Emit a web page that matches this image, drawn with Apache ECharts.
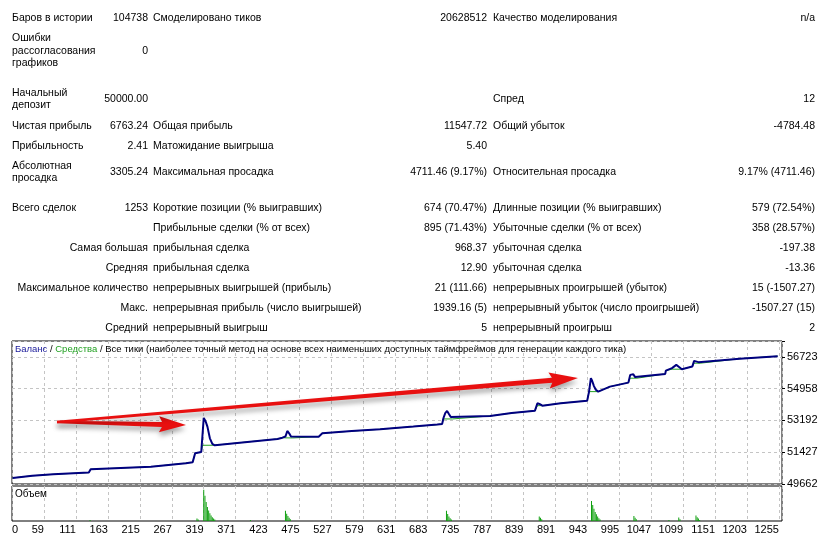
<!DOCTYPE html>
<html>
<head>
<meta charset="utf-8">
<script src="https://cdn.jsdelivr.net/npm/echarts@6/dist/echarts.min.js"></script>
<style>
html, body { margin: 0; padding: 0; background: #fff; }
#chart { position: absolute; left: 0; top: 0; width: 824px; height: 539px; }
#stats { position: absolute; left: 0; top: 0; width: 824px; height: 336px;
  font-family: "Liberation Sans", Arial, sans-serif; font-size: 10.5px; color: #000; }
#stats div { position: absolute; white-space: pre; line-height: 12.5px; }
</style>
</head>
<body>
<div id="chart"></div>
<div id="stats"></div>
<script>
// report table: label1, value1, label2, value2, label3, value3
const statRows = [
  ["Баров в истории", "104738", "Смоделировано тиков", "20628512", "Качество моделирования", "n/a"],
  ["Ошибки\nрассогласования\nграфиков", "0", "", "", "", ""],
  ["Начальный\nдепозит", "50000.00", "", "", "Спред", "12"],
  ["Чистая прибыль", "6763.24", "Общая прибыль", "11547.72", "Общий убыток", "-4784.48"],
  ["Прибыльность", "2.41", "Матожидание выигрыша", "5.40", "", ""],
  ["Абсолютная\nпросадка", "3305.24", "Максимальная просадка", "4711.46 (9.17%)", "Относительная просадка", "9.17% (4711.46)"],
  ["Всего сделок", "1253", "Короткие позиции (% выигравших)", "674 (70.47%)", "Длинные позиции (% выигравших)", "579 (72.54%)"],
  ["", "", "Прибыльные сделки (% от всех)", "895 (71.43%)", "Убыточные сделки (% от всех)", "358 (28.57%)"],
  ["Самая большая", "", "прибыльная сделка", "968.37", "убыточная сделка", "-197.38"],
  ["Средняя", "", "прибыльная сделка", "12.90", "убыточная сделка", "-13.36"],
  ["Максимальное количество", "", "непрерывных выигрышей (прибыль)", "21 (111.66)", "непрерывных проигрышей (убыток)", "15 (-1507.27)"],
  ["Макс.", "", "непрерывная прибыль (число выигрышей)", "1939.16 (5)", "непрерывный убыток (число проигрышей)", "-1507.27 (15)"],
  ["Средний", "", "непрерывный выигрыш", "5", "непрерывный проигрыш", "2"]
];

// balance curve: [trade #, balance]
const balancePoints = [
  [8, 50000], [40, 50120], [74, 50200], [132, 50300], [135, 50480], [233, 50620],
  [290, 50820], [301, 50870], [305, 51369], [315, 51441], [317, 51500], [319, 53332],
  [322, 53150], [325, 52850], [329, 52200], [333, 51890], [337, 51814], [390, 52000],
  [439, 52164], [447, 52236], [452, 52300], [455, 52609], [458, 52480], [461, 52300],
  [464, 52220], [506, 52292], [512, 52481], [560, 52600], [606, 52703], [660, 52850],
  [699, 52962], [707, 53000], [709, 53315], [712, 53600], [715, 53721], [718, 53550],
  [721, 53380], [724, 53276], [785, 53443], [820, 53600], [858, 53737], [862, 54149],
  [863, 54221], [866, 54100], [870, 54015], [900, 54150], [943, 54293], [946, 54794],
  [949, 55539], [951, 55400], [954, 55100], [957, 54900], [961, 54794], [980, 55072],
  [1010, 55294], [1013, 55723], [1016, 55761], [1018, 55761], [1021, 55600], [1024, 55539],
  [1070, 55778], [1071, 55962], [1081, 56100], [1088, 56278], [1093, 56150], [1097, 56039],
  [1114, 56184], [1117, 56501], [1120, 56520], [1124, 56430], [1127, 56373], [1191, 56620],
  [1253, 56763]
];

// equity curve: [trade #, equity]
const equityPoints = [
  [8, 50000], [40, 50120], [74, 50200], [132, 50300], [135, 50480], [233, 50620],
  [290, 50820], [301, 50870], [305, 51369], [315, 51441], [317, 51500], [317, 51814],
  [337, 51814], [390, 52000], [439, 52164], [447, 52236], [452, 52225], [464, 52220],
  [506, 52292], [512, 52481], [560, 52600], [606, 52703], [660, 52850], [699, 52962],
  [707, 53000], [709, 53276], [724, 53276], [785, 53443], [820, 53600], [858, 53737],
  [862, 54015], [870, 54015], [900, 54150], [943, 54293], [946, 54794], [961, 54794],
  [980, 55072], [1010, 55294], [1013, 55539], [1024, 55539], [1070, 55778], [1071, 55962],
  [1081, 56039], [1097, 56039], [1114, 56184], [1117, 56373], [1127, 56373], [1191, 56620],
  [1253, 56763]
];

// volume: [trade #, lots]
const volumePoints = [
  [134, 0.3], [308, 0.7], [310, 0.4],
  [319, 8.9], [321, 7.2], [323, 5.4], [325, 4.0], [327, 3.0], [329, 2.2], [331, 1.6], [333, 1.1], [335, 0.7], [337, 0.4],
  [395, 0.3],
  [452, 2.9], [454, 2.1], [456, 1.4], [458, 0.9], [460, 0.5],
  [714, 2.9], [716, 2.0], [718, 1.3], [720, 0.8], [722, 0.4],
  [865, 1.3], [867, 0.9], [869, 0.5],
  [950, 5.7], [952, 4.6], [954, 3.5], [956, 2.6], [958, 1.9], [960, 1.3], [962, 0.8], [964, 0.4],
  [1019, 1.4], [1021, 0.9], [1023, 0.5],
  [1076, 0.3],
  [1092, 1.0], [1094, 0.5],
  [1120, 1.6], [1122, 1.1], [1124, 0.7], [1126, 0.3]
];

const xTickLabels = ["0", "59", "111", "163", "215", "267", "319", "371", "423", "475", "527", "579",
  "631", "683", "735", "787", "839", "891", "943", "995", "1047", "1099", "1151", "1203", "1255"];
const yTickLabels = ["49662", "51427", "53192", "54958", "56723"];

// ---- table ----
const rowCenters = [17, 50, 98, 125, 145, 171, 207, 227, 247, 267, 287, 307, 327];
const stats = document.getElementById("stats");
function cell(text, x, cy, alignRight) {
  if (!text) return;
  const d = document.createElement("div");
  const lines = text.split("\n").length;
  d.textContent = text;
  d.style.top = (cy - lines * 6.25) + "px";
  if (alignRight) { d.style.right = (824 - x) + "px"; d.style.textAlign = "right"; }
  else d.style.left = x + "px";
  stats.appendChild(d);
}
statRows.forEach((r, i) => {
  const cy = rowCenters[i];
  cell(r[0], i >= 8 ? 148 : 12, cy, i >= 8);
  cell(r[1], 148, cy, true);
  cell(r[2], 153, cy, false);
  cell(r[3], 487, cy, true);
  cell(r[4], 493, cy, false);
  cell(r[5], 815, cy, true);
});

// ---- chart ----
const chart = echarts.init(document.getElementById("chart"));
const font = '"Liberation Sans", Arial, sans-serif';
const gridLine = { show: true, lineStyle: { color: "#c4c4c4", type: [3, 3], width: 1 } };

function arrow(tail, tip, w0, w1, headLen, headHalf) {
  const dx = tip[0] - tail[0], dy = tip[1] - tail[1];
  const len = Math.hypot(dx, dy), ux = dx / len, uy = dy / len, nx = -uy, ny = ux;
  const bx = tip[0] - ux * headLen, by = tip[1] - uy * headLen;
  return {
    type: "polygon",
    shape: { points: [
      [tail[0] + nx * w0 / 2, tail[1] + ny * w0 / 2],
      [bx + nx * w1 / 2, by + ny * w1 / 2],
      [bx - ux * 3 + nx * headHalf, by - uy * 3 + ny * headHalf],
      tip,
      [bx - ux * 3 - nx * headHalf, by - uy * 3 - ny * headHalf],
      [bx - nx * w1 / 2, by - ny * w1 / 2],
      [tail[0] - nx * w0 / 2, tail[1] - ny * w0 / 2]
    ] },
    style: { fill: "#e81010", shadowBlur: 5, shadowOffsetY: 4, shadowColor: "rgba(0,0,0,0.35)" },
    z: 100
  };
}

chart.setOption({
  animation: false,
  grid: [
    { left: 12, right: 42, top: 341, height: 143, show: true, borderColor: "#000", borderWidth: 1, backgroundColor: "#fff" },
    { left: 12, right: 42, top: 486, height: 35, show: true, borderColor: "#000", borderWidth: 1, backgroundColor: "#fff" }
  ],
  xAxis: [
    { type: "value", gridIndex: 0, min: 7, max: 1260, interval: 52,
      axisLine: { show: false }, axisTick: { show: false }, axisLabel: { show: false }, splitLine: gridLine },
    { type: "value", gridIndex: 1, min: 7, max: 1260, interval: 52,
      axisLine: { show: false }, axisTick: { show: false }, splitLine: gridLine,
      axisLabel: { show: true, margin: 3, fontSize: 11, fontFamily: font, color: "#000",
        align: "right", alignMinLabel: "left", showMaxLabel: true,
        formatter: (v, i) => xTickLabels[i] ?? "" } }
  ],
  yAxis: [
    { type: "value", gridIndex: 0, position: "right", min: 49662, max: 57605.625, interval: 1765.25,
      axisLine: { show: false }, axisTick: { show: true, length: 3, lineStyle: { color: "#000" } },
      splitLine: gridLine,
      axisLabel: { margin: 5, fontSize: 11, fontFamily: font, color: "#000",
        formatter: (v, i) => yTickLabels[i] ?? "" } },
    { type: "value", gridIndex: 1, min: 0, max: 10,
      axisLine: { show: false }, axisTick: { show: false }, axisLabel: { show: false }, splitLine: { show: false } }
  ],
  series: [
    { name: "Средства", type: "line", xAxisIndex: 0, yAxisIndex: 0, data: equityPoints,
      symbol: "none", lineStyle: { color: "#22a022", width: 1 }, z: 2 },
    { name: "Баланс", type: "line", xAxisIndex: 0, yAxisIndex: 0, data: balancePoints,
      symbol: "none", lineStyle: { color: "#00007f", width: 2 }, z: 3 },
    { name: "Объем", type: "bar", xAxisIndex: 1, yAxisIndex: 1, data: volumePoints,
      barWidth: 1, itemStyle: { color: "#10a010" } }
  ],
  graphic: [
    { type: "text", left: 15, top: 344, z: 50,
      style: { text: "{b|Баланс}{k| / }{g|Средства}{k| / Все тики (наиболее точный метод на основе всех наименьших доступных таймфреймов для генерации каждого тика)}",
        rich: {
          b: { fill: "#1a1a9a", fontSize: 9.5, fontFamily: font },
          g: { fill: "#22a022", fontSize: 9.5, fontFamily: font },
          k: { fill: "#000", fontSize: 9.5, fontFamily: font }
        } } },
    { type: "text", left: 15, top: 489, z: 50,
      style: { text: "Объем", fill: "#000", fontSize: 10, fontFamily: font } },
    arrow([57, 422], [186, 425], 2.5, 5, 24, 8),
    arrow([57, 422], [578, 378], 2.5, 5, 26, 8)
  ]
});
</script>
</body>
</html>
